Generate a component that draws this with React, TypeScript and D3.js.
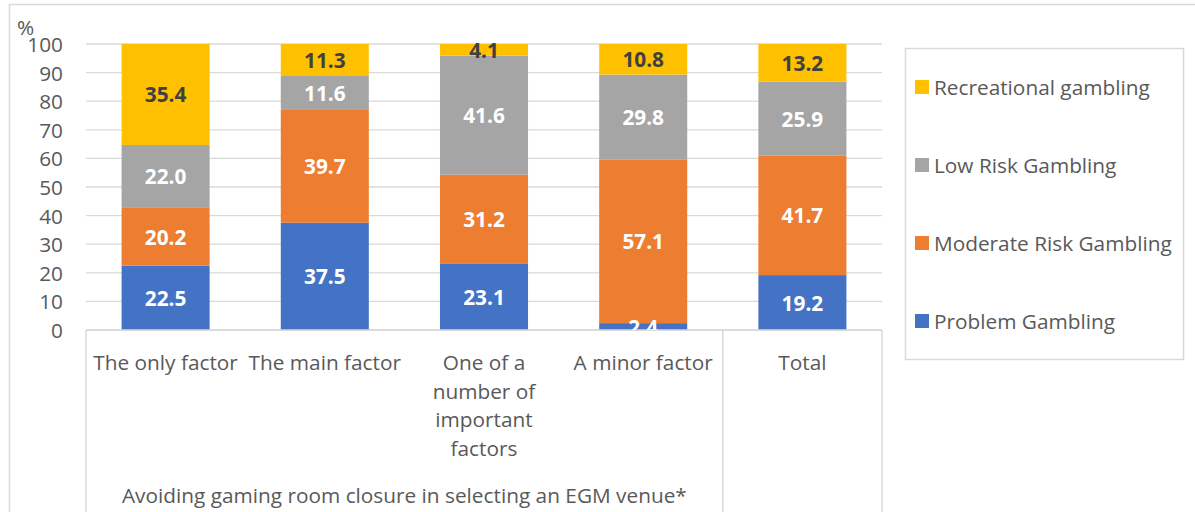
import React from "react";
import * as d3 from "d3";

const categories = ["The only factor", "The main factor", "One of a number of important factors", "A minor factor", "Total"];
const categoryLines = [["The only factor"], ["The main factor"], ["One of a", "number of", "important", "factors"], ["A minor factor"], ["Total"]];
const seriesNames = ["Problem Gambling", "Moderate Risk Gambling", "Low Risk Gambling", "Recreational gambling"];
const problem = [22.5, 37.5, 23.1, 2.4, 19.2];
const moderate = [20.2, 39.7, 31.2, 57.1, 41.7];
const lowRisk = [22.0, 11.6, 41.6, 29.8, 25.9];
const recreational = [35.4, 11.3, 4.1, 10.8, 13.2];
const yTicks = [0, 10, 20, 30, 40, 50, 60, 70, 80, 90, 100];
const colors = ["#4472C4", "#ED7D31", "#A5A5A5", "#FFC000"];
const labelColors = ["#FFFFFF", "#FFFFFF", "#FFFFFF", "#404040"];
const groupLabel = "Avoiding gaming room closure in selecting an EGM venue*";

const FONT = "'Open Sans', sans-serif";
const FS = 20.8;

export default function App() {
  const W = 1195, H = 512;
  const x0 = 86, x1 = 882, yBot = 330, yTop = 44;
  const x = d3.scaleBand<string>().domain(categories).range([x0, x1]).paddingInner(0.447).paddingOuter(0.2235);
  const y = d3.scaleLinear().domain([0, 100]).range([yBot, yTop]);
  const series = [problem, moderate, lowRisk, recreational];
  const step = x.step();

  const segs: any[] = [];
  categories.forEach((c, i) => {
    let acc = 0;
    series.forEach((s, k) => {
      const v0 = acc;
      const v1 = Math.min(100, acc + s[i]);
      acc += s[i];
      segs.push({ c, k, v0, v1, val: s[i] });
    });
  });

  const legendYs = [87, 165, 243, 321];
  const legendOrder = [3, 2, 1, 0];
  const divider = x0 + step * 4;

  return (
    <svg width={W} height={H} style={{ position: "absolute", left: 0, top: 0, background: "#fff" }}>
      <defs>
        <clipPath id="plotClip">
          <rect x={0} y={0} width={W} height={yBot} />
        </clipPath>
      </defs>
      <rect x={9.5} y={4.5} width={1300} height={700} fill="#fff" stroke="#D9D9D9" strokeWidth={1.5} />
      {yTicks.map((t) => (
        <line key={t} x1={x0} x2={x1} y1={y(t)} y2={y(t)} stroke="#D9D9D9" strokeWidth={1.3} />
      ))}
      {yTicks.map((t) => (
        <text key={"t" + t} x={63} y={y(t)} textAnchor="end" dominantBaseline="central" fontFamily={FONT} fontSize={FS} fill="#595959">{t}</text>
      ))}
      <text x={17} y={27} dominantBaseline="central" fontFamily={FONT} fontSize={FS} fill="#595959">%</text>
      {segs.map((s, i) => (
        <rect key={i} x={x(s.c)} width={x.bandwidth()} y={y(s.v1)} height={y(s.v0) - y(s.v1)} fill={colors[s.k]} />
      ))}
      <line x1={x0} x2={x1} y1={yBot} y2={yBot} stroke="#D9D9D9" strokeWidth={1.5} />
      {[x0, divider, x1].map((xx, i) => (
        <line key={"d" + i} x1={xx} x2={xx} y1={yBot} y2={H} stroke="#D9D9D9" strokeWidth={1.5} />
      ))}
      <g clipPath="url(#plotClip)">
        {segs.map((s, i) => (
          <text key={"l" + i} x={(x(s.c) as number) + x.bandwidth() / 2} y={(y(s.v0) + y(s.v0 + s.val)) / 2} textAnchor="middle" dominantBaseline="central" fontFamily={FONT} fontSize={FS} fontWeight="bold" fill={labelColors[s.k]}>{s.val.toFixed(1)}</text>
        ))}
      </g>
      {categories.map((c, i) => (
        <g key={"c" + i}>
          {categoryLines[i].map((ln, j) => (
            <text key={j} x={(x(c) as number) + x.bandwidth() / 2} y={362 + j * 28.7} textAnchor="middle" dominantBaseline="central" fontFamily={FONT} fontSize={FS} fill="#595959">{ln}</text>
          ))}
        </g>
      ))}
      <text x={(x0 + divider) / 2} y={495} textAnchor="middle" dominantBaseline="central" fontFamily={FONT} fontSize={FS} fill="#595959">{groupLabel}</text>
      <rect x={905.5} y={48.5} width={278} height={311} fill="#fff" stroke="#D9D9D9" strokeWidth={1.5} />
      {legendOrder.map((k, i) => (
        <g key={"lg" + k}>
          <rect x={915} y={legendYs[i] - 7} width={14} height={14} fill={colors[k]} />
          <text x={934} y={legendYs[i]} dominantBaseline="central" fontFamily={FONT} fontSize={FS} fill="#595959">{seriesNames[k]}</text>
        </g>
      ))}
    </svg>
  );
}
